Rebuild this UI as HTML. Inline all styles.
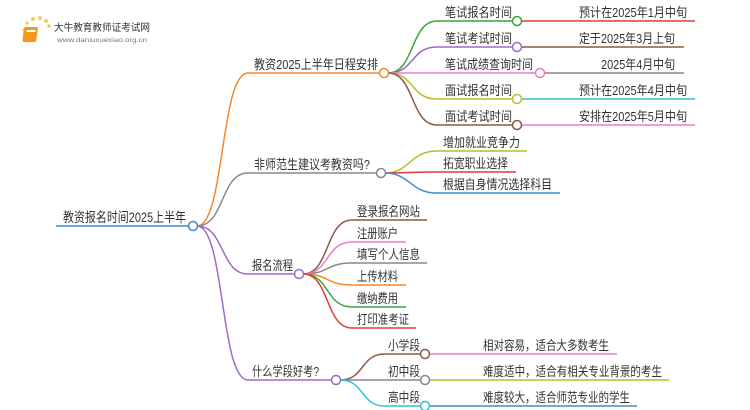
<!DOCTYPE html>
<html><head><meta charset="utf-8"><style>
html,body{margin:0;padding:0;background:#fff;}
svg{display:block;}
text{font-family:"Liberation Sans","Noto Sans CJK SC",sans-serif;fill:#333;}
</style></head><body>
<svg width="750" height="410" viewBox="0 0 750 410" xmlns="http://www.w3.org/2000/svg">
<g>
<circle cx="24" cy="30" r="1.5" fill="#f7c66a"/><circle cx="27" cy="23" r="1.8" fill="#f7c66a"/><circle cx="33" cy="19" r="2" fill="#f7c66a"/><circle cx="40" cy="18" r="2" fill="#f7c66a"/><circle cx="46" cy="21" r="2" fill="#f7c66a"/><circle cx="49" cy="26" r="1.8" fill="#f7c66a"/>
<rect x="28" y="27" width="14" height="15" rx="2" fill="#f39a1e" transform="skewX(-8)"/>
<rect x="31" y="30" width="9" height="2" fill="#fff" transform="skewX(-8)"/>
<text x="54" y="31" font-size="10" textLength="96" lengthAdjust="spacingAndGlyphs">大牛教育教师证考试网</text>
<text x="57" y="42" font-size="6" style="fill:#777" textLength="90" lengthAdjust="spacingAndGlyphs">www.daniuxuexiao.org.cn</text>
</g>
<g fill="none" stroke-width="1.5">
<line x1="56" y1="226" x2="189" y2="226" stroke="#3b8ed0"/>
<path d="M197 226 C225 226 220 73 248 73 L381 73" stroke="#f7862a"/>
<path d="M197 226 C225 226 220 173 248 173 L377 173" stroke="#888"/>
<path d="M197 226 C225 226 220 274 248 274 L295 274" stroke="#9b6bc9"/>
<path d="M197 226 C225 226 220 380 248 380 L332 380" stroke="#9b6bc9"/>
<path d="M388 73 C415 73 410 21 437 21 L513 21" stroke="#3aa43a"/>
<path d="M388 73 C415 73 410 47 437 47 L513 47" stroke="#9b6bc9"/>
<path d="M388 73 L536 73" stroke="#e77ec8"/>
<path d="M388 73 C415 73 410 99 437 99 L513 99" stroke="#bcbc2c"/>
<path d="M388 73 C415 73 410 125 437 125 L513 125" stroke="#8a5a44"/>
<line x1="521" y1="21" x2="695" y2="21" stroke="#e03c3c"/>
<line x1="521" y1="47" x2="684" y2="47" stroke="#8a5a44"/>
<line x1="544" y1="73" x2="684" y2="73" stroke="#888"/>
<line x1="521" y1="99" x2="695" y2="99" stroke="#2fc4d6"/>
<line x1="521" y1="125" x2="695" y2="125" stroke="#e77ec8"/>
<path d="M385 173 C410 173 410 151 437 151 L527 151" stroke="#bcbc2c"/>
<path d="M385 173 C410 173 410 172 437 172 L516 172" stroke="#e03c3c"/>
<path d="M385 173 C410 173 410 193 437 193 L560 193" stroke="#3b8ed0"/>
<path d="M303 274 C330 274 325 220 352 220 L427 220" stroke="#8a5a44"/>
<path d="M303 274 C330 274 325 242 352 242 L406 242" stroke="#e77ec8"/>
<path d="M303 274 C330 274 325 263 352 263 L427 263" stroke="#888"/>
<path d="M303 274 C330 274 325 285 352 285 L406 285" stroke="#f7862a"/>
<path d="M303 274 C330 274 325 307 352 307 L406 307" stroke="#3aa43a"/>
<path d="M303 274 C330 274 325 328 352 328 L416 328" stroke="#e03c3c"/>
<path d="M340 380 C365 380 360 354 385 354 L421 354" stroke="#8a5a44"/>
<path d="M340 380 L421 380" stroke="#888"/>
<path d="M340 380 C365 380 360 406 385 406 L421 406" stroke="#2fc4d6"/>
<line x1="429" y1="354" x2="617" y2="354" stroke="#e77ec8"/>
<line x1="429" y1="380" x2="669" y2="380" stroke="#bcbc2c"/>
<line x1="429" y1="406" x2="637" y2="406" stroke="#3b8ed0"/>
</g>
<g fill="#fff" stroke-width="1.5">
<circle cx="193" cy="226" r="4.5" stroke="#3b8ed0"/>
<circle cx="384" cy="73" r="4.5" stroke="#f7862a"/>
<circle cx="381" cy="173" r="4.5" stroke="#888"/>
<circle cx="299" cy="274" r="4.5" stroke="#9b6bc9"/>
<circle cx="336" cy="380" r="4.5" stroke="#9b6bc9"/>
<circle cx="517" cy="21" r="4.5" stroke="#3aa43a"/>
<circle cx="517" cy="47" r="4.5" stroke="#9b6bc9"/>
<circle cx="540" cy="73" r="4.5" stroke="#e77ec8"/>
<circle cx="517" cy="99" r="4.5" stroke="#bcbc2c"/>
<circle cx="517" cy="125" r="4.5" stroke="#8a5a44"/>
<circle cx="425" cy="354" r="4.5" stroke="#8a5a44"/>
<circle cx="425" cy="380" r="4.5" stroke="#888"/>
<circle cx="425" cy="406" r="4.5" stroke="#2fc4d6"/>
</g>
<g font-size="13">
<text x="63" y="222" font-size="13.5" textLength="123" lengthAdjust="spacingAndGlyphs">教资报名时间2025上半年</text>
<text x="254" y="69" textLength="124" lengthAdjust="spacingAndGlyphs">教资2025上半年日程安排</text>
<text x="254" y="169" textLength="116" lengthAdjust="spacingAndGlyphs">非师范生建议考教资吗?</text>
<text x="252" y="270" textLength="41" lengthAdjust="spacingAndGlyphs">报名流程</text>
<text x="252" y="376" textLength="67" lengthAdjust="spacingAndGlyphs">什么学段好考?</text>
<text x="445" y="17" textLength="67" lengthAdjust="spacingAndGlyphs">笔试报名时间</text>
<text x="445" y="43" textLength="67" lengthAdjust="spacingAndGlyphs">笔试考试时间</text>
<text x="445" y="69" textLength="88" lengthAdjust="spacingAndGlyphs">笔试成绩查询时间</text>
<text x="445" y="95" textLength="67" lengthAdjust="spacingAndGlyphs">面试报名时间</text>
<text x="445" y="121" textLength="67" lengthAdjust="spacingAndGlyphs">面试考试时间</text>
<text x="579" y="17" textLength="108" lengthAdjust="spacingAndGlyphs">预计在2025年1月中旬</text>
<text x="579" y="43" textLength="96" lengthAdjust="spacingAndGlyphs">定于2025年3月上旬</text>
<text x="601" y="69" textLength="74" lengthAdjust="spacingAndGlyphs">2025年4月中旬</text>
<text x="579" y="95" textLength="108" lengthAdjust="spacingAndGlyphs">预计在2025年4月中旬</text>
<text x="579" y="121" textLength="108" lengthAdjust="spacingAndGlyphs">安排在2025年5月中旬</text>
<text x="443" y="147" textLength="77" lengthAdjust="spacingAndGlyphs">增加就业竞争力</text>
<text x="443" y="168" textLength="65" lengthAdjust="spacingAndGlyphs">拓宽职业选择</text>
<text x="443" y="189" textLength="109" lengthAdjust="spacingAndGlyphs">根据自身情况选择科目</text>
<text x="357" y="216" textLength="63" lengthAdjust="spacingAndGlyphs">登录报名网站</text>
<text x="357" y="238" textLength="41" lengthAdjust="spacingAndGlyphs">注册账户</text>
<text x="357" y="259" textLength="63" lengthAdjust="spacingAndGlyphs">填写个人信息</text>
<text x="357" y="281" textLength="41" lengthAdjust="spacingAndGlyphs">上传材料</text>
<text x="357" y="303" textLength="41" lengthAdjust="spacingAndGlyphs">缴纳费用</text>
<text x="357" y="324" textLength="52" lengthAdjust="spacingAndGlyphs">打印准考证</text>
<text x="388" y="350" textLength="32" lengthAdjust="spacingAndGlyphs">小学段</text>
<text x="388" y="376" textLength="32" lengthAdjust="spacingAndGlyphs">初中段</text>
<text x="388" y="402" textLength="32" lengthAdjust="spacingAndGlyphs">高中段</text>
<text x="483" y="350" textLength="126" lengthAdjust="spacingAndGlyphs">相对容易，适合大多数考生</text>
<text x="483" y="376" textLength="179" lengthAdjust="spacingAndGlyphs">难度适中，适合有相关专业背景的考生</text>
<text x="483" y="402" textLength="147" lengthAdjust="spacingAndGlyphs">难度较大，适合师范专业的学生</text>
</g>
</svg>
</body></html>
